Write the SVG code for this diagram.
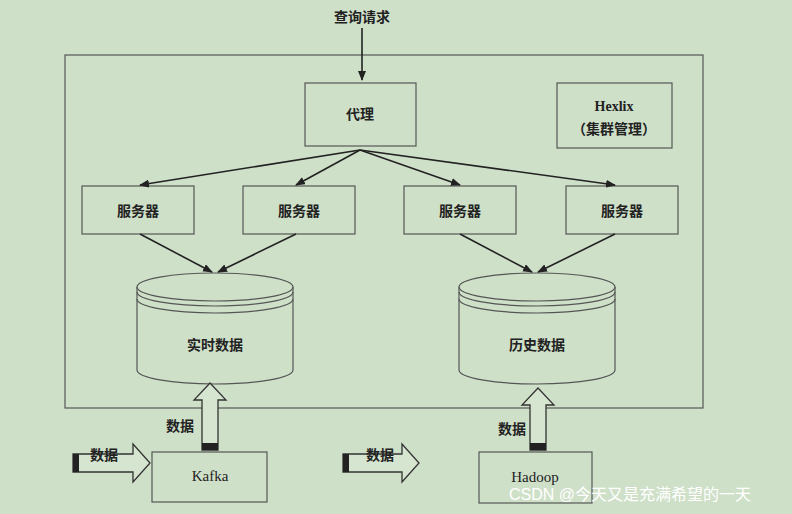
<svg xmlns="http://www.w3.org/2000/svg" width="792" height="514" viewBox="0 0 792 514">
<defs>
<style>
.b{fill:none;stroke:#555;stroke-width:1.2}
.t{font-family:"Liberation Serif","Noto Sans CJK SC",serif;font-size:14px;fill:#222;text-anchor:middle;font-weight:bold}
.n{font-weight:normal;font-size:15px}
.c{stroke:#222;stroke-width:1.6;fill:none}
.h{fill:#d6e5cf;stroke:#333;stroke-width:1.3}
</style>
<marker id="a" markerWidth="10" markerHeight="8" refX="9" refY="4" orient="auto" markerUnits="userSpaceOnUse"><path d="M0,0 L10,4 L0,8 Z" fill="#222"/></marker>
</defs>
<rect width="792" height="514" fill="#cfe0c9"/>
<rect x="65" y="55" width="638" height="353" class="b"/>
<text x="362" y="22" class="t">查询请求</text>
<g id="proxy"><rect x="305" y="83" width="111" height="63" class="b"/><text x="360" y="119" class="t">代理</text></g>
<g id="hexlix"><rect x="557" y="83" width="115" height="65" class="b"/><text x="614" y="111" class="t">Hexlix</text><text x="614" y="134" class="t">（集群管理）</text></g>
<g id="s1"><rect x="82" y="186" width="112" height="48" class="b"/><text x="138" y="216" class="t">服务器</text></g>
<g id="s2"><rect x="243" y="186" width="112" height="48" class="b"/><text x="299" y="216" class="t">服务器</text></g>
<g id="s3"><rect x="404" y="186" width="112" height="48" class="b"/><text x="460" y="216" class="t">服务器</text></g>
<g id="s4"><rect x="566" y="186" width="112" height="48" class="b"/><text x="622" y="216" class="t">服务器</text></g>
<g id="db1"><path d="M137,287 V370 A78,14 0 0 0 293,370 V287" class="b"/><ellipse cx="215" cy="287" rx="78" ry="14" class="b"/><path d="M137,292 A78,14 0 0 0 293,292 M137,299 A78,14 0 0 0 293,299" class="b"/><text x="215" y="350" class="t">实时数据</text></g>
<g id="db2"><path d="M459,287 V370 A78,14 0 0 0 615,370 V287" class="b"/><ellipse cx="537" cy="287" rx="78" ry="14" class="b"/><path d="M459,292 A78,14 0 0 0 615,292 M459,299 A78,14 0 0 0 615,299" class="b"/><text x="537" y="350" class="t">历史数据</text></g>
<g id="kafka"><rect x="152" y="452" width="115" height="50" class="b"/><text x="210" y="481" class="t n">Kafka</text></g>
<g id="hadoop"><rect x="479" y="452" width="113" height="51" class="b"/><text x="535" y="482" class="t n">Hadoop</text></g>
<g id="connectors">
<line x1="362" y1="28" x2="362" y2="80" class="c" marker-end="url(#a)"/>
<line x1="360" y1="150" x2="140" y2="185" class="c" marker-end="url(#a)"/>
<line x1="360" y1="150" x2="296" y2="185" class="c" marker-end="url(#a)"/>
<line x1="360" y1="150" x2="460" y2="185" class="c" marker-end="url(#a)"/>
<line x1="360" y1="150" x2="615" y2="185" class="c" marker-end="url(#a)"/>
<line x1="140" y1="234" x2="212" y2="272" class="c" marker-end="url(#a)"/>
<line x1="296" y1="234" x2="218" y2="272" class="c" marker-end="url(#a)"/>
<line x1="460" y1="234" x2="532" y2="272" class="c" marker-end="url(#a)"/>
<line x1="615" y1="234" x2="538" y2="272" class="c" marker-end="url(#a)"/>
<path d="M202,450 V400 H194 L210,383 L226,400 H218 V450 Z" class="h"/>
<rect x="202" y="443" width="16" height="7" fill="#222"/>
<path d="M530,450 V405 H522 L538,388 L554,405 H546 V450 Z" class="h"/>
<rect x="530" y="443" width="16" height="7" fill="#222"/>
<path d="M73,454 H133 V444 L150,463 L133,482 V472 H73 Z" class="h"/>
<rect x="73" y="454" width="6" height="18" fill="#222"/>
<path d="M343,454 H402 V444 L419,463 L402,482 V472 H343 Z" class="h"/>
<rect x="343" y="454" width="6" height="18" fill="#222"/>
</g>
<text x="180" y="431" class="t">数据</text>
<text x="512" y="434" class="t">数据</text>
<text x="104" y="460" class="t">数据</text>
<text x="380" y="460" class="t">数据</text>
<text x="630" y="500" font-family="Liberation Sans,Noto Sans CJK SC,sans-serif" font-size="16" fill="#ffffff" text-anchor="middle">CSDN @今天又是充满希望的一天</text>
</svg>
